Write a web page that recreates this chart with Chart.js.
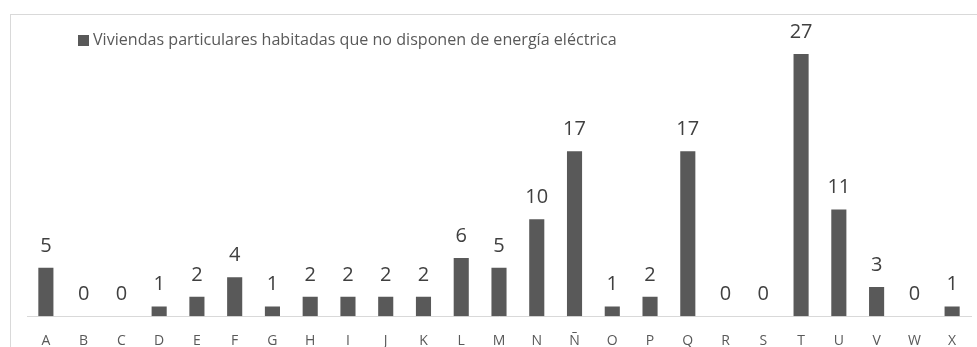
<!DOCTYPE html>
<html lang="es">
<head>
<meta charset="UTF-8">
<title>Viviendas sin energía eléctrica</title>
<script src="https://cdn.jsdelivr.net/npm/chart.js"></script>
<style>
  html, body { margin: 0; padding: 0; background: #fff; overflow: hidden; }
  #wrap { position: relative; width: 977px; height: 347px; overflow: hidden; }
  #frame { position: absolute; left: 10px; top: 14px; width: 1000px; height: 400px; border: 1px solid #d9d9d9; box-sizing: border-box; }
  #legend { position: absolute; left: 78px; top: 28px; font: 16.1px "Open Sans", sans-serif; color: #595959; white-space: nowrap; }
  #legend span.box { display: inline-block; width: 11px; height: 11px; background: #595959; margin-right: 4px; vertical-align: -1px; }
  canvas { position: absolute; left: 0; top: 0; }
</style>
</head>
<body>
<div id="wrap">
  <div id="frame"></div>
  <canvas id="chart" width="977" height="365"></canvas>
  <div id="legend"><span class="box"></span>Viviendas particulares habitadas que no disponen de energía eléctrica</div>
</div>
<script>
const categories = ['A', 'B', 'C', 'D', 'E', 'F', 'G', 'H', 'I', 'J', 'K', 'L', 'M', 'N', 'Ñ', 'O', 'P', 'Q', 'R', 'S', 'T', 'U', 'V', 'W', 'X'];
const viviendas = [5, 0, 0, 1, 2, 4, 1, 2, 2, 2, 2, 6, 5, 10, 17, 1, 2, 17, 0, 0, 27, 11, 3, 0, 1];
const seriesName = 'Viviendas particulares habitadas que no disponen de energía eléctrica';

// value labels above each bar
const barLabels = {
    id: 'barLabels',
    afterDatasetsDraw(chart) {
        const ctx = chart.ctx;
        const meta = chart.getDatasetMeta(0);
        ctx.save();
        ctx.font = '20px "Open Sans", sans-serif';
        ctx.fillStyle = '#404040';
        ctx.textAlign = 'center';
        ctx.textBaseline = 'alphabetic';
        meta.data.forEach((bar, i) => {
            ctx.fillText(String(viviendas[i]), bar.x, bar.y - 16);
        });
        ctx.restore();
    }
};

new Chart(document.getElementById('chart'), {
    type: 'bar',
    data: {
        labels: categories,
        datasets: [{
            label: seriesName,
            data: viviendas,
            backgroundColor: '#595959',
            barPercentage: 0.4,
            categoryPercentage: 1
        }]
    },
    options: {
        responsive: false,
        animation: false,
        layout: { padding: { left: 27, right: 6, top: 25, bottom: 0 } },
        plugins: {
            legend: { display: false },
            tooltip: { enabled: false }
        },
        scales: {
            x: {
                grid: { display: false, drawTicks: false },
                border: { display: true, color: '#d9d9d9', width: 1 },
                ticks: {
                    color: '#595959',
                    font: { family: 'Open Sans', size: 14 },
                    padding: 16,
                    maxRotation: 0,
                    autoSkip: false
                }
            },
            y: {
                display: false,
                min: 0,
                max: 30
            }
        }
    },
    plugins: [barLabels]
});
</script>
</body>
</html>
